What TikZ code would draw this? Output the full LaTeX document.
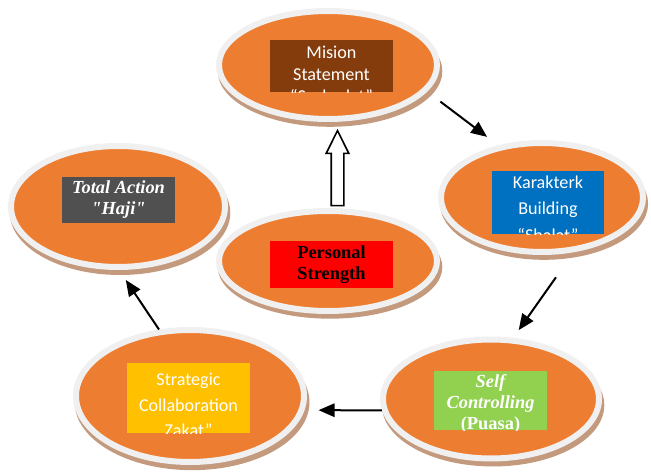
\documentclass[tikz,border=0pt]{standalone}
\usepackage{fontspec}
\setmainfont{Liberation Serif}[Ligatures=TeXOff]
\newfontfamily\calibri{Carlito}
\usetikzlibrary{shapes.geometric, shapes.arrows, shadows, arrows.meta, positioning, calc}

\definecolor{oranye}{HTML}{ED7D31}
\definecolor{cincin}{HTML}{F0F0F0}
\definecolor{bayang}{HTML}{C49A7E}
\definecolor{coklat}{HTML}{843C0C}
\definecolor{biru}{HTML}{0070C0}
\definecolor{abu}{HTML}{505050}
\definecolor{merah}{HTML}{FF0000}
\definecolor{hijau}{HTML}{92D050}
\definecolor{kuning}{HTML}{FFC000}

\begin{document}
\begin{tikzpicture}[x=0.75pt, y=-0.75pt,
  bola/.style={ellipse, draw=cincin, line width=4.5pt, fill=oranye, inner sep=0pt,
    drop shadow={shadow xshift=1.5pt, shadow yshift=-4.5pt, shadow scale=1.03,
      fill=bayang, opacity=1}},
  kotak/.style={rectangle, inner sep=0pt, fill=#1},
  sans/.style={inner sep=0pt, align=center, text=white,
    font=\calibri\fontsize{13.6}{#1}\selectfont},
  sans/.default=16.5,
  serif/.style={inner sep=0pt, align=center, text=white,
    font=\bfseries\fontsize{13.8}{15.8}\selectfont},
  panah/.style={line width=1.5pt, -{Triangle[length=12pt, width=10pt]}},
  panahkosong/.style={single arrow, draw=black, fill=white, line width=1.2pt,
    rotate=90, minimum height=56.25pt, text height=0pt, text depth=0pt,
    inner xsep=0pt, inner ysep=4.125pt, single arrow head extend=3.75pt,
    single arrow tip angle=53}]
  \useasboundingbox (0,0) rectangle (651,474);

  % Lingkaran (elips)
  \node[bola, minimum width=163.5pt, minimum height=81pt] (mision) at (328,65) {};
  \node[bola, minimum width=151.5pt, minimum height=81.75pt] (karakter) at (542,197.5) {};
  \node[bola, minimum width=160.5pt, minimum height=90.75pt] (total) at (118,206.5) {};
  \node[bola, minimum width=163.5pt, minimum height=75pt] (personal) at (328,261) {};
  \node[bola, minimum width=162pt, minimum height=89.25pt] (self) at (491,399) {};
  \node[bola, minimum width=171pt, minimum height=99pt] (strategic) at (190,396) {};

  % Kotak isi
  \node[kotak=coklat, minimum width=92.25pt, minimum height=39pt] (misionbox) at ([shift={(3.5,1)}]mision) {};
  \node[kotak=biru, minimum width=84pt, minimum height=47.25pt] (karakterbox) at ([shift={(6,5)}]karakter) {};
  \node[kotak=abu, minimum width=84.75pt, minimum height=34.5pt] (totalbox) at ([shift={(0.5,-6.5)}]total) {};
  \node[kotak=merah, minimum width=92.25pt, minimum height=35.25pt] (personalbox) at ([shift={(3.5,3.5)}]personal) {};
  \node[kotak=hijau, minimum width=84.75pt, minimum height=44.25pt] (selfbox) at ([shift={(-0.5,1.5)}]self) {};
  \node[kotak=kuning, minimum width=92.25pt, minimum height=52.5pt] (strategicbox) at ([shift={(-1.5,2)}]strategic) {};

  % Teks (terpotong oleh kotak)
  \begin{scope}
    \clip (misionbox.south west) rectangle (misionbox.north east);
    \node[sans] (misiontext) at ([shift={(0,10)}]misionbox) {Mision\\Statement\\“Syahadat”};
  \end{scope}
  \begin{scope}
    \clip (karakterbox.south west) rectangle (karakterbox.north east);
    \node[sans=20] (karaktertext) at ([shift={(0,6)}]karakterbox) {Karakterk\\Building\\“Shalat”};
  \end{scope}
  \begin{scope}
    \clip (strategicbox.south west) rectangle (strategicbox.north east);
    \node[sans=19] (strategictext) at ([shift={(0,7)}]strategicbox) {Strategic\\Collaboration\\Zakat”};
  \end{scope}
  \begin{scope}
    \clip (selfbox.south west) rectangle (selfbox.north east);
    \node[serif] (selftext) at ([shift={(0,3.5)}]selfbox) {\itshape Self\\\itshape Controlling\\(Puasa)};
  \end{scope}
  \node[serif, font=\bfseries\itshape\fontsize{13.8}{15.8}\selectfont] (totaltext) at (totalbox) {Total Action\\"Haji"};
  \node[serif, text=black] (personaltext) at (personalbox) {Personal\\Strength};

  % Panah
  \draw[panah, shorten <=12.5pt, shorten >=10.5pt] (mision.-15) -- (karakter.130);
  \draw[panah, shorten <=23pt, shorten >=7pt] (karakter.-60) -- (self.70);
  \draw[panah, shorten >=10.5pt] (self.186) -- (strategic.-7.5);
  \draw[panah, shorten >=9pt] (strategic.115) -- (total.-89);
  \node[panahkosong] (naik) at ([shift={(9.5,9.5)}]$(personal.north)!0.5!(mision.south)$) {};
\end{tikzpicture}
\end{document}
